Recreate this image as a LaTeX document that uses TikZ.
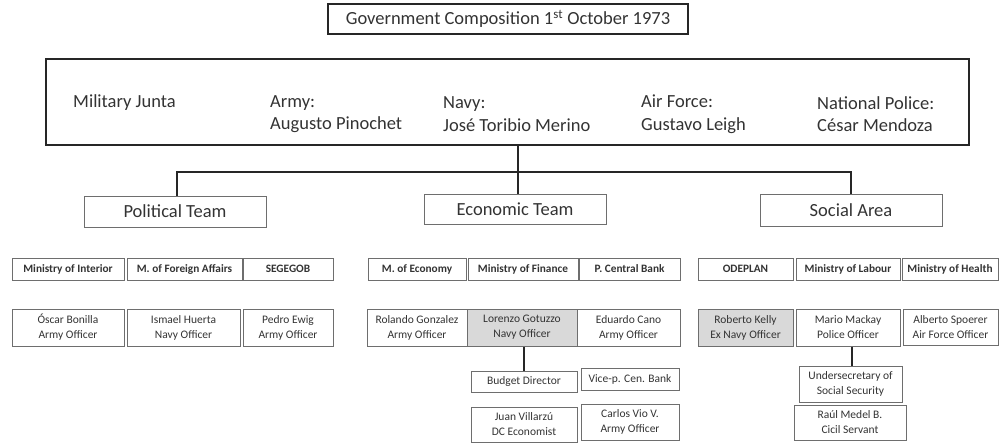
\documentclass[tikz,border=0pt]{standalone}
\usepackage{fontspec}
\setmainfont{Carlito}
\definecolor{ink}{HTML}{333333}
\definecolor{edge}{HTML}{6E6E6E}
\definecolor{shade}{HTML}{D9D9D9}
\begin{document}
\begin{tikzpicture}[x=1pt,y=-1pt,
  sz/.style 2 args={minimum width=#1 pt, minimum height=#2 pt},
  big/.style={font=\fontsize{18.5}{22.5}\selectfont, text=ink},
  titlebox/.style={draw=black!85, line width=1.8pt, inner sep=0pt, big},
  juntabox/.style={draw=black!85, line width=2pt, inner sep=0pt},
  member/.style={big, inner sep=0pt, anchor=west, align=left},
  teambox/.style={draw=edge, line width=1pt, inner sep=0pt, big},
  deptbox/.style={draw=edge, line width=1pt, inner sep=0pt, text=ink,
    font=\fontsize{11.3}{13}\selectfont\bfseries},
  personbox/.style={draw=edge, line width=1pt, inner sep=0pt, text=ink, align=center,
    font=\fontsize{11.5}{15}\selectfont},
  officebox/.style={personbox},
  conn/.style={draw=black!85, line width=1.4pt}
]
\useasboundingbox (0,0) rectangle (999,445);

% title and the junta
\node[titlebox, sz={360}{30}] (title) at (508,19)
  {Government Composition 1\textsuperscript{st} October 1973};
\node[juntabox, sz={923}{86}] (junta) at (507.5,102) {};
\node[member] (mj) at (73,103) {Military Junta};
\node[member] (army) at (270,114) {Army:\\Augusto Pinochet};
\node[member] (navy) at (443,114) {Navy:\\José Toribio Merino};
\node[member] (air) at (641,114) {Air Force:\\Gustavo Leigh};
\node[member] (police) at (817,114) {National Police:\\César Mendoza};

% teams
\node[teambox, sz={182}{31}] (pol) at (175,211.5) {Political Team};
\node[teambox, sz={182}{30}] (econ) at (515,209) {Economic Team};
\node[teambox, sz={182}{32}] (soc) at (851,210) {Social Area};

\coordinate (bus) at (518,172);
\draw[conn] (junta.south -| bus) -- (bus |- econ.north);
\draw[conn] (pol.north -| 177,0) -- (177,172) -- (soc.north |- bus) -- (soc.north);

% ministries
\node[deptbox, sz={112}{22}] (interior) at (68,269) {Ministry of Interior};
\node[deptbox, sz={115}{22}] (foreign) at (184.5,269) {M. of Foreign Affairs};
\node[deptbox, sz={90}{22}] (segegob) at (288,269) {SEGEGOB};
\node[deptbox, sz={98}{22}] (economy) at (417,269) {M. of Economy};
\node[deptbox, sz={110}{22}] (finance) at (523,269) {Ministry of Finance};
\node[deptbox, sz={101}{22}] (central) at (629.5,269) {P. Central Bank};
\node[deptbox, sz={95}{22}] (odeplan) at (745.5,269) {ODEPLAN};
\node[deptbox, sz={104}{22}] (labour) at (848,269) {Ministry of Labour};
\node[deptbox, sz={96}{22}] (health) at (950,269) {Ministry of Health};

% ministers
\node[personbox, sz={112}{37}] (bonilla) at (68,327.5) {Óscar Bonilla\\Army Officer};
\node[personbox, sz={113}{37}] (huerta) at (183.5,327.5) {Ismael Huerta\\Navy Officer};
\node[personbox, sz={90}{37}] (ewig) at (288,327.5) {Pedro Ewig\\Army Officer};
\node[personbox, sz={100}{37}] (gonzalez) at (417,327.5) {Rolando Gonzalez\\Army Officer};
\node[personbox, fill=shade, sz={110}{37}] (gotuzzo) at (522,327.5) {Lorenzo Gotuzzo\\Navy Officer};
\node[personbox, sz={103}{37}] (cano) at (628.5,327.5) {Eduardo Cano\\Army Officer};
\node[personbox, fill=shade, sz={95}{37}] (kelly) at (745.5,327.5) {Roberto Kelly\\Ex Navy Officer};
\node[personbox, sz={104}{37}] (mackay) at (848,327.5) {Mario Mackay\\Police Officer};
\node[personbox, sz={95}{36}] (spoerer) at (950.5,327) {Alberto Spoerer\\Air Force Officer};

% subordinate offices
\node[officebox, sz={106}{21}] (budget) at (524,381.5) {Budget Director};
\node[officebox, sz={98}{22}] (vice) at (630,379) {Vice-p. Cen. Bank};
\node[officebox, sz={106}{35}] (villarzu) at (524,424.5) {Juan Villarzú\\DC Economist};
\node[officebox, sz={98}{36}] (vio) at (630,422) {Carlos Vio V.\\Army Officer};
\node[officebox, sz={103}{36}] (undersec) at (850.5,384) {Undersecretary of\\Social Security};
\node[officebox, sz={112}{35}] (medel) at (850,422.5) {Raúl Medel B.\\Cicil Servant};

\draw[conn] (budget.north) -- (budget.north |- gotuzzo.south);
\draw[conn] (852,0 |- mackay.south) -- (852,0 |- undersec.north);
\end{tikzpicture}
\end{document}
